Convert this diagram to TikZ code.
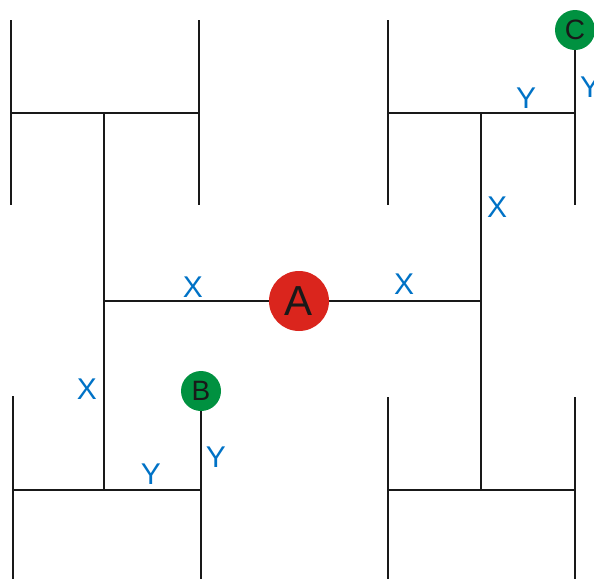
\documentclass[tikz,border=0pt]{standalone}
\usepackage{fontspec}
\setmainfont{Liberation Sans}
\usetikzlibrary{positioning, calc}

\definecolor{pinred}{RGB}{218,37,29}
\definecolor{pingreen}{RGB}{0,145,64}
\definecolor{lblblue}{RGB}{0,114,198}

\begin{document}
\begin{tikzpicture}[
		x=1pt, y=-1pt,
		% Wires of the H-tree
		wire/.style={line width=2pt, draw=black!90},
		% Round pins
		pin/.style 2 args={
				circle, fill=#1, minimum size=#2, inner sep=0pt,
				text=black!90
			},
		% Blue segment labels
		seglab/.style={text=lblblue, font=\fontsize{30}{30}\selectfont, inner sep=0pt}
	]

	\useasboundingbox (0,0) rectangle (594,579);

	% ==========================================
	% 1. JUNCTION POINTS
	% ==========================================

	% Central H
	\coordinate (left) at (104, 301);
	\coordinate (right) at (481, 301);
	\coordinate (lt) at (104, 113);
	\coordinate (lb) at (104, 490);
	\coordinate (rt) at (481, 113);
	\coordinate (rb) at (481, 490);

	% Top-left H
	\coordinate (tll) at (11, 113);
	\coordinate (tlr) at (199, 113);
	\coordinate (tll1) at (11, 20);
	\coordinate (tll2) at (11, 205);
	\coordinate (tlr1) at (199, 20);
	\coordinate (tlr2) at (199, 205);

	% Top-right H
	\coordinate (trl) at (388, 113);
	\coordinate (trr) at (575, 113);
	\coordinate (trl1) at (388, 20);
	\coordinate (trl2) at (388, 205);
	\coordinate (trr2) at (575, 205);

	% Bottom-left H
	\coordinate (bll) at (13, 490);
	\coordinate (blr) at (201, 490);
	\coordinate (bll1) at (13, 396);
	\coordinate (bll2) at (13, 579);
	\coordinate (blr2) at (201, 579);

	% Bottom-right H
	\coordinate (brl) at (388, 490);
	\coordinate (brr) at (575, 490);
	\coordinate (brl1) at (388, 397);
	\coordinate (brl2) at (388, 579);
	\coordinate (brr1) at (575, 397);
	\coordinate (brr2) at (575, 579);

	% ==========================================
	% 2. PINS
	% ==========================================

	\node[pin={pinred}{60pt}, font=\fontsize{42}{42}\selectfont] (a) at (299, 301) {A};
	\node[pin={pingreen}{40pt}, font=\fontsize{28}{28}\selectfont] (b) at (201, 391) {B};
	\node[pin={pingreen}{40pt}, font=\fontsize{28}{28}\selectfont] (c) at (575, 30) {C};

	% ==========================================
	% 3. WIRES
	% ==========================================

	% Central H
	\draw[wire] (left) -- (a);
	\draw[wire] (a) -- (right);
	\draw[wire] (lt) -- (lb);
	\draw[wire] (rt) -- (rb);

	% Top-left H
	\draw[wire] (tll) -- (tlr);
	\draw[wire] (tll1) -- (tll2);
	\draw[wire] (tlr1) -- (tlr2);

	% Top-right H
	\draw[wire] (trl) -- (trr);
	\draw[wire] (trl1) -- (trl2);
	\draw[wire] (c) -- (trr2);

	% Bottom-left H
	\draw[wire] (bll) -- (blr);
	\draw[wire] (bll1) -- (bll2);
	\draw[wire] (b) -- (blr2);

	% Bottom-right H
	\draw[wire] (brl) -- (brr);
	\draw[wire] (brl1) -- (brl2);
	\draw[wire] (brr1) -- (brr2);

	% ==========================================
	% 4. PATH LABELS
	% ==========================================

	\node[seglab] (xl) at (193, 287) {X};
	\node[seglab] (xr) at (404, 284) {X};
	\node[seglab] (xrt) at (497, 207) {X};
	\node[seglab] (xlb) at (87, 389) {X};
	\node[seglab] (ybl) at (151, 474) {Y};
	\node[seglab] (yb) at (216, 457) {Y};
	\node[seglab] (ytr) at (526, 98) {Y};
	\node[seglab] (yc) at (590, 87) {Y};

\end{tikzpicture}
\end{document}
